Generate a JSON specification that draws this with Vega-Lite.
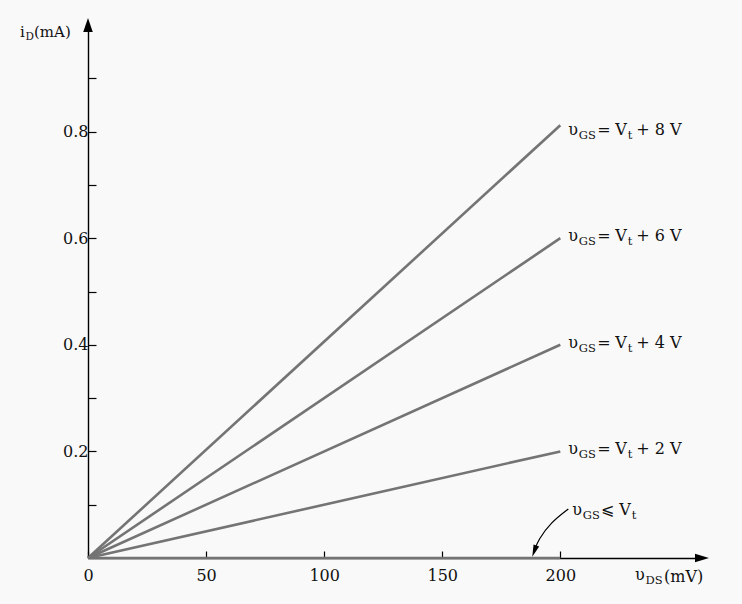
{
  "$schema": "https://vega.github.io/schema/vega-lite/v6.json",
  "width": 614,
  "height": 533,
  "autosize": {"type": "none"},
  "padding": {"left": 88, "top": 25, "right": 40, "bottom": 46},
  "background": "#f9f9f9",
  "data": {"values": [{"anchor": 1}]},
  "config": {
    "view": {"stroke": null},
    "font": "DejaVu Serif",
    "axis": {"labelFontSize": 16, "labelFont": "DejaVu Serif", "labelColor": "#111"}
  },
  "datasets": {
    "curves": [
      {"series": "8 V", "vds": 0, "id": 0}, {"series": "8 V", "vds": 200, "id": 0.812},
      {"series": "6 V", "vds": 0, "id": 0}, {"series": "6 V", "vds": 200, "id": 0.6},
      {"series": "4 V", "vds": 0, "id": 0}, {"series": "4 V", "vds": 200, "id": 0.4},
      {"series": "2 V", "vds": 0, "id": 0}, {"series": "2 V", "vds": 200, "id": 0.2},
      {"series": "off", "vds": 0, "id": 0}, {"series": "off", "vds": 200, "id": 0}
    ],
    "labels": [
      {"vds": 200, "id": 0.8, "rel": "=", "tail": "+ 8 V"},
      {"vds": 200, "id": 0.6, "rel": "=", "tail": "+ 6 V"},
      {"vds": 200, "id": 0.4, "rel": "=", "tail": "+ 4 V"},
      {"vds": 200, "id": 0.2, "rel": "=", "tail": "+ 2 V"},
      {"vds": 201.7, "id": 0.086, "rel": "⩽", "tail": ""}
    ],
    "pointer": [
      {"vds": 203.4, "id": 0.092},
      {"vds": 195.8, "id": 0.066},
      {"vds": 190.7, "id": 0.034},
      {"vds": 189.0, "id": 0.014}
    ]
  },
  "layer": [
    {
      "data": {"name": "curves"},
      "mark": {"type": "line", "color": "#747474", "strokeWidth": 2.6},
      "encoding": {
        "x": {
          "field": "vds", "type": "quantitative",
          "scale": {"domain": [0, 260], "nice": false, "zero": false},
          "axis": {
            "title": null, "grid": false, "values": [0, 50, 100, 150, 200],
            "tickSize": -7, "tickColor": "black", "tickWidth": 1.2,
            "domainColor": "black", "domainWidth": 1.4,
            "labelFontSize": 16, "labelColor": "#111", "labelPadding": 16,
            "labelFont": "DejaVu Serif", "labelFlush": false
          }
        },
        "y": {
          "field": "id", "type": "quantitative",
          "scale": {"domain": [0, 1], "nice": false, "zero": false},
          "axis": {
            "title": null, "grid": false,
            "values": [0.1, 0.2, 0.3, 0.4, 0.5, 0.6, 0.7, 0.8, 0.9],
            "labelExpr": "indexof(['0.2','0.4','0.6','0.8'], format(datum.value,'.1f')) >= 0 ? format(datum.value,'.1f') : ''",
            "tickSize": -8, "tickColor": "black", "tickWidth": 1.2,
            "domainColor": "black", "domainWidth": 1.4,
            "labelFontSize": 16, "labelColor": "#111", "labelPadding": 8,
            "labelFont": "DejaVu Serif", "labelFlush": false
          }
        },
        "detail": {"field": "series"}
      }
    },
    {
      "mark": {"type": "point", "shape": "M-1,-0.62L1,0L-1,0.62Z", "filled": true, "color": "black", "opacity": 1, "size": 196, "strokeWidth": 0},
      "encoding": {"x": {"datum": 260, "type": "quantitative"}, "y": {"datum": 0, "type": "quantitative"}}
    },
    {
      "mark": {"type": "point", "shape": "M-0.68,1L0,-1L0.68,1Z", "filled": true, "color": "black", "opacity": 1, "size": 196, "strokeWidth": 0},
      "encoding": {"x": {"datum": 0, "type": "quantitative"}, "y": {"datum": 1, "type": "quantitative"}}
    },
    {
      "data": {"name": "pointer"},
      "mark": {"type": "line", "interpolate": "basis", "color": "black", "strokeWidth": 1.2},
      "encoding": {"x": {"field": "vds", "type": "quantitative"}, "y": {"field": "id", "type": "quantitative"}}
    },
    {
      "mark": {"type": "point", "shape": "M-0.5,-1L0,1L0.5,-1Z", "filled": true, "color": "black", "opacity": 1, "size": 144, "angle": 20, "strokeWidth": 0},
      "encoding": {"x": {"datum": 189.0, "type": "quantitative"}, "y": {"datum": 0.013, "type": "quantitative"}}
    },
    {
      "data": {"name": "labels"},
      "layer": [
        {"mark": {"type": "text", "text": "υ", "align": "left", "baseline": "alphabetic", "dx": 8, "dy": 3, "fontSize": 16, "color": "#111"}},
        {"mark": {"type": "text", "text": "GS", "align": "left", "baseline": "alphabetic", "dx": 18.5, "dy": 7, "fontSize": 11.5, "color": "#111"}},
        {"mark": {"type": "text", "align": "left", "baseline": "alphabetic", "dx": 37, "dy": 3, "fontSize": 16, "color": "#111"}, "encoding": {"text": {"field": "rel"}}},
        {"mark": {"type": "text", "text": "V", "align": "left", "baseline": "alphabetic", "dx": 55, "dy": 3, "fontSize": 16, "color": "#111"}},
        {"mark": {"type": "text", "text": "t", "align": "left", "baseline": "alphabetic", "dx": 67.5, "dy": 7, "fontSize": 11.5, "color": "#111"}},
        {"mark": {"type": "text", "align": "left", "baseline": "alphabetic", "dx": 76, "dy": 3, "fontSize": 16, "color": "#111"}, "encoding": {"text": {"field": "tail"}}}
      ],
      "encoding": {"x": {"field": "vds", "type": "quantitative"}, "y": {"field": "id", "type": "quantitative"}}
    },
    {
      "layer": [
        {"mark": {"type": "text", "text": "i", "align": "left", "baseline": "alphabetic", "dx": -68, "dy": 12, "fontSize": 15, "color": "#111"}},
        {"mark": {"type": "text", "text": "D", "align": "left", "baseline": "alphabetic", "dx": -62.5, "dy": 15, "fontSize": 10.5, "color": "#111"}},
        {"mark": {"type": "text", "text": "(mA)", "align": "left", "baseline": "alphabetic", "dx": -54, "dy": 12, "fontSize": 15, "color": "#111"}}
      ],
      "encoding": {"x": {"datum": 0, "type": "quantitative"}, "y": {"datum": 1, "type": "quantitative"}}
    },
    {
      "layer": [
        {"mark": {"type": "text", "text": "υ", "align": "left", "baseline": "alphabetic", "dx": -67, "dy": 22, "fontSize": 16, "color": "#111"}},
        {"mark": {"type": "text", "text": "DS", "align": "left", "baseline": "alphabetic", "dx": -56.5, "dy": 26, "fontSize": 11.5, "color": "#111"}},
        {"mark": {"type": "text", "text": "(mV)", "align": "left", "baseline": "alphabetic", "dx": -38, "dy": 24, "fontSize": 16, "color": "#111"}}
      ],
      "encoding": {"x": {"datum": 260, "type": "quantitative"}, "y": {"datum": 0, "type": "quantitative"}}
    }
  ]
}
